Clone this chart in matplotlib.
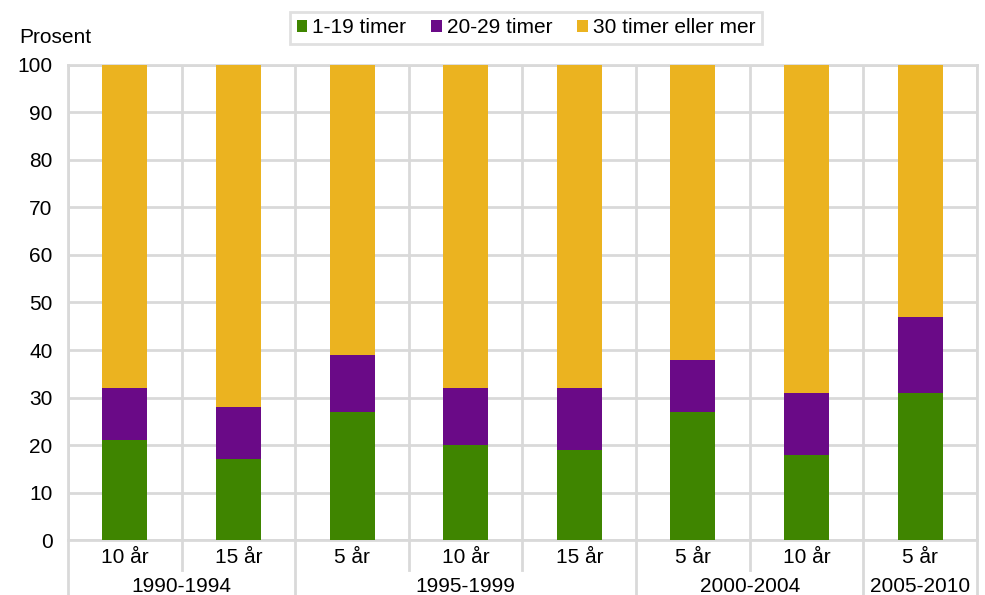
import matplotlib.pyplot as plt
from matplotlib.lines import Line2D
import numpy as np

plt.rcParams['font.family'] = ['Liberation Sans', 'DejaVu Sans']

# Data
sub_labels = ["10 år", "15 år", "5 år", "10 år", "15 år", "5 år", "10 år", "5 år"]
groups = ["1990-1994", "1995-1999", "2000-2004", "2005-2010"]
group_sizes = [2, 3, 2, 1]
t_1_19 = [21, 17, 27, 20, 19, 27, 18, 31]
t_20_29 = [11, 11, 12, 12, 13, 11, 13, 16]
t_30_plus = [100 - a - b for a, b in zip(t_1_19, t_20_29)]

series = {
    "1-19 timer": t_1_19,
    "20-29 timer": t_20_29,
    "30 timer eller mer": t_30_plus,
}
color_map = {
    "1-19 timer": "#3f8500",
    "20-29 timer": "#6a0a87",
    "30 timer eller mer": "#ebb320",
}

grid_col = "#d9d9d9"
fs = 15

fig = plt.figure(figsize=(9.85, 5.95), dpi=100)
ax = fig.add_axes([0.069, 0.0924, 0.9228, 0.7984])

x = np.arange(len(sub_labels))
bottom = np.zeros(len(x))
for name, vals in series.items():
    ax.bar(x, vals, width=0.396, bottom=bottom, color=color_map[name],
           label=name, zorder=3)
    bottom += np.array(vals)

ax.set_xlim(-0.5, len(x) - 0.5)
ax.set_ylim(0, 100)
ax.set_yticks(range(0, 101, 10))
ax.tick_params(axis='y', length=0, labelsize=fs, pad=11)
ax.set_xticks([])
ax.yaxis.grid(True, color=grid_col, linewidth=2, zorder=0)
for s in ax.spines.values():
    s.set_color(grid_col)
    s.set_linewidth(2)

# Vertical separators between categories, extending into the label area
group_edges = np.cumsum([0] + group_sizes) - 0.5
for b in np.arange(-0.5, len(x)):
    ax.axvline(b, color=grid_col, linewidth=2, zorder=1)
    end = -0.116 if np.any(np.isclose(group_edges, b)) else -0.063
    ax.add_line(Line2D([b, b], [0, end], color=grid_col, linewidth=2,
                       transform=ax.get_xaxis_transform(), clip_on=False))

# Category labels
for xi, lab in zip(x, sub_labels):
    ax.text(xi, -0.036, lab, transform=ax.get_xaxis_transform(),
            ha="center", va="center", fontsize=fs)
for i, g in enumerate(groups):
    center = (group_edges[i] + group_edges[i + 1]) / 2
    ax.text(center, -0.097, g, transform=ax.get_xaxis_transform(),
            ha="center", va="center", fontsize=fs)

fig.text(0.02, 0.937, "Prosent", ha="left", va="center", fontsize=fs)

handles, labels = ax.get_legend_handles_labels()
leg = fig.legend(handles, labels, loc="center", bbox_to_anchor=(0.534, 0.953),
                 ncol=3, fontsize=fs, frameon=True, fancybox=False,
                 handlelength=0.5, handleheight=0.5, handletextpad=0.25,
                 columnspacing=1.2, borderpad=0.3, borderaxespad=0.6)
leg.get_frame().set_edgecolor(grid_col)
leg.get_frame().set_linewidth(2)

plt.savefig("out.png", dpi=100)
plt.close()
